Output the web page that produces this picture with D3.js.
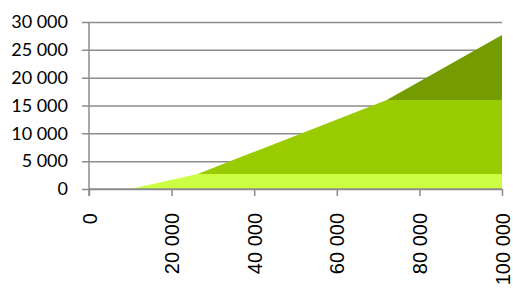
<!DOCTYPE html>
<html>
<head>
<meta charset="utf-8">
<script src="https://cdn.jsdelivr.net/npm/d3@7"></script>
<style>
  body { margin: 0; background: #fff; }
  svg { display: block; }
</style>
</head>
<body>
<svg width="513" height="290"></svg>
<script>
// income points (x) and the tax falling in each bracket
var incomes = [0, 10000, 26300, 72100, 100000];
var bracket1 = [0, 0, 2700, 2700, 2700];
var bracket2 = [0, 0, 0, 13300, 13300];
var bracket3 = [0, 0, 0, 0, 11650];
var yTicks = [0, 5000, 10000, 15000, 20000, 25000, 30000];
var xTicks = [0, 20000, 40000, 60000, 80000, 100000];
var colors = ["#ccff44", "#99cc00", "#749b00"];

var svg = d3.select("svg"),
  margin = { top: 22, right: 11, bottom: 101, left: 89 },
  width = +svg.attr("width") - margin.left - margin.right,
  height = +svg.attr("height") - margin.top - margin.bottom;

var x = d3.scaleLinear().domain([0, 100000]).range([0, width]),
  y = d3.scaleLinear().domain([0, 30000]).range([height, 0]);

var fmt = function(d) { return d3.format(",")(d).replace(/,/g, " "); };

var g = svg.append("g").attr("transform", "translate(" + margin.left + "," + margin.top + ")");

// gridlines + y labels
var yAxis = g.append("g").call(d3.axisLeft(y).tickValues(yTicks).tickSize(-width - 7).tickFormat(fmt));
yAxis.select(".domain").remove();
yAxis.selectAll(".tick line").attr("x1", -7).attr("x2", width).attr("stroke", "#8c8c8c").attr("stroke-width", 1.5);
yAxis.selectAll(".tick text").attr("x", -21).attr("fill", "#000")
  .style("font-family", "Lato, 'Open Sans', sans-serif").style("font-size", "18px");

var data = incomes.map(function(v, i) {
  return { income: v, b1: bracket1[i], b2: bracket2[i], b3: bracket3[i] };
});
var series = d3.stack().keys(["b1", "b2", "b3"])(data);

var area = d3.area()
  .x(function(d) { return x(d.data.income); })
  .y0(function(d) { return y(d[0]); })
  .y1(function(d) { return y(d[1]); });

g.selectAll(".layer").data(series).enter().append("path")
  .attr("class", "layer")
  .attr("d", area)
  .attr("fill", function(d, i) { return colors[i]; });

// x axis
var xAxis = g.append("g").attr("transform", "translate(0," + height + ")")
  .call(d3.axisBottom(x).tickValues(xTicks).tickSize(7).tickFormat(fmt));
xAxis.select(".domain").attr("stroke", "#8c8c8c").attr("stroke-width", 1.5).attr("d", "M0,0H" + width);
xAxis.selectAll(".tick line").attr("stroke", "#8c8c8c").attr("stroke-width", 1.5);
xAxis.selectAll(".tick text")
  .attr("transform", "rotate(-90)")
  .attr("x", -24).attr("y", 0).attr("dy", "0.35em")
  .attr("text-anchor", "end").attr("fill", "#000")
  .style("font-family", "'Liberation Sans', Arial, sans-serif").style("font-size", "20px");

// y axis line
g.append("line").attr("x1", 0).attr("x2", 0).attr("y1", 0).attr("y2", height + 7)
  .attr("stroke", "#8c8c8c").attr("stroke-width", 1.5);
</script>
</body>
</html>
